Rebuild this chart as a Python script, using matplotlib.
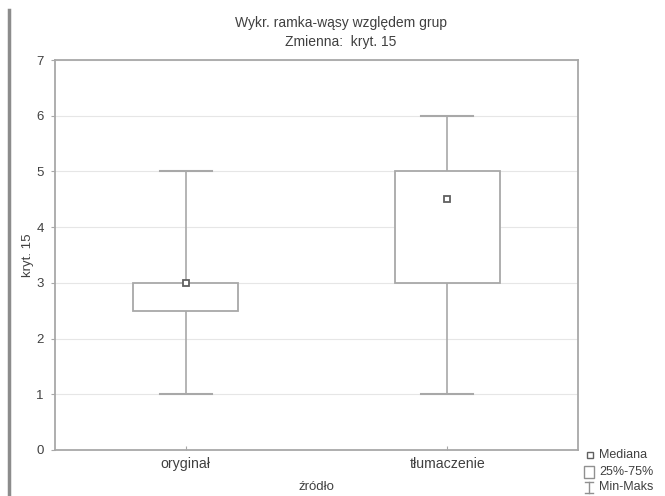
import matplotlib
matplotlib.use("Agg")
import matplotlib.pyplot as plt
from matplotlib.lines import Line2D
from matplotlib.patches import Rectangle

plt.rcParams['font.family'] = ['Liberation Sans', 'DejaVu Sans']

groups = ["oryginał", "tłumaczenie"]
mins = [1, 1]
q1 = [2.5, 3]
medians = [3, 4.5]
q3 = [3, 5]
maxs = [5, 6]
legend_labels = ["Mediana", "25%-75%", "Min-Maks"]
title_lines = ["Wykr. ramka-wąsy względem grup", "Zmienna:  kryt. 15"]

line_col = "#a8a8a8"
text_col = "#404040"

W, H = 665, 496
fig = plt.figure(figsize=(6.65, 4.96), dpi=100)
ax = fig.add_axes([55 / W, 1 - 450 / H, 523 / W, 390 / H])

# szary pasek z lewej strony
fig.add_artist(Line2D([9 / W, 9 / W], [0, 1 - 10 / H], color="#8c8c8c", lw=2.5))

pos = list(range(len(groups)))
bw = 0.4
cw = 0.2
for i in pos:
    ax.plot([i, i], [mins[i], q1[i]], color=line_col, lw=1.2, zorder=2)
    ax.plot([i, i], [q3[i], maxs[i]], color=line_col, lw=1.2, zorder=2)
    ax.plot([i - cw / 2, i + cw / 2], [mins[i], mins[i]], color=line_col, lw=1.5, zorder=2)
    ax.plot([i - cw / 2, i + cw / 2], [maxs[i], maxs[i]], color=line_col, lw=1.5, zorder=2)
    ax.add_patch(Rectangle((i - bw / 2, q1[i]), bw, q3[i] - q1[i], facecolor="white",
                           edgecolor=line_col, lw=1.3, zorder=3))
    ax.plot(i, medians[i], marker="s", ms=5, mfc="white", mec="#606060", mew=1.3, zorder=4)

ax.set_xlim(-0.5, 1.5)
ax.set_ylim(0, 7)
ax.set_xticks(pos)
ax.set_xticklabels(groups)
ax.set_yticks(range(8))
ax.grid(axis="y", color="#e6e6e6", lw=0.8, ls="-")
ax.set_axisbelow(True)
for s in ax.spines.values():
    s.set_color(line_col)
    s.set_linewidth(1.3)
ax.tick_params(axis="x", direction="in", length=3, color=line_col, labelcolor=text_col,
               labelsize=10.2, pad=5)
ax.tick_params(axis="y", direction="out", length=3, color=line_col, labelcolor=text_col,
               labelsize=9.5, pad=5)
ax.set_xlabel("źródło", fontsize=9.5, color=text_col, labelpad=7)
ax.set_ylabel("kryt. 15", fontsize=9.5, color=text_col)
ax.yaxis.set_label_coords(-21 / 523, 0.5)

# tytul w dwoch liniach
fig.text(341 / W, 1 - 23 / H, title_lines[0], fontsize=10, color=text_col,
         ha="center", va="center")
fig.text(341 / W, 1 - 42 / H, title_lines[1], fontsize=10, color=text_col,
         ha="center", va="center")

# legenda w prawym dolnym rogu
rows = [455, 472, 487]
fig.add_artist(Line2D([590 / W], [1 - rows[0] / H], ls="none", marker="s", ms=4,
                      mfc="white", mec="#606060", mew=1))
fig.add_artist(Rectangle((584 / W, 1 - (rows[1] + 6) / H), 10 / W, 12 / H,
                         facecolor="white", edgecolor="#909090", lw=1))
fig.add_artist(Line2D([589 / W, 589 / W], [1 - (rows[2] - 5) / H, 1 - (rows[2] + 6) / H],
                      color="#909090", lw=1))
for yy in (rows[2] - 5, rows[2] + 6):
    fig.add_artist(Line2D([585 / W, 593 / W], [1 - yy / H, 1 - yy / H], color="#909090", lw=1))
for lab, r in zip(legend_labels, rows):
    fig.text(599 / W, 1 - r / H, lab, fontsize=9, color=text_col, va="center", ha="left")

fig.savefig("out.png", dpi=100)
